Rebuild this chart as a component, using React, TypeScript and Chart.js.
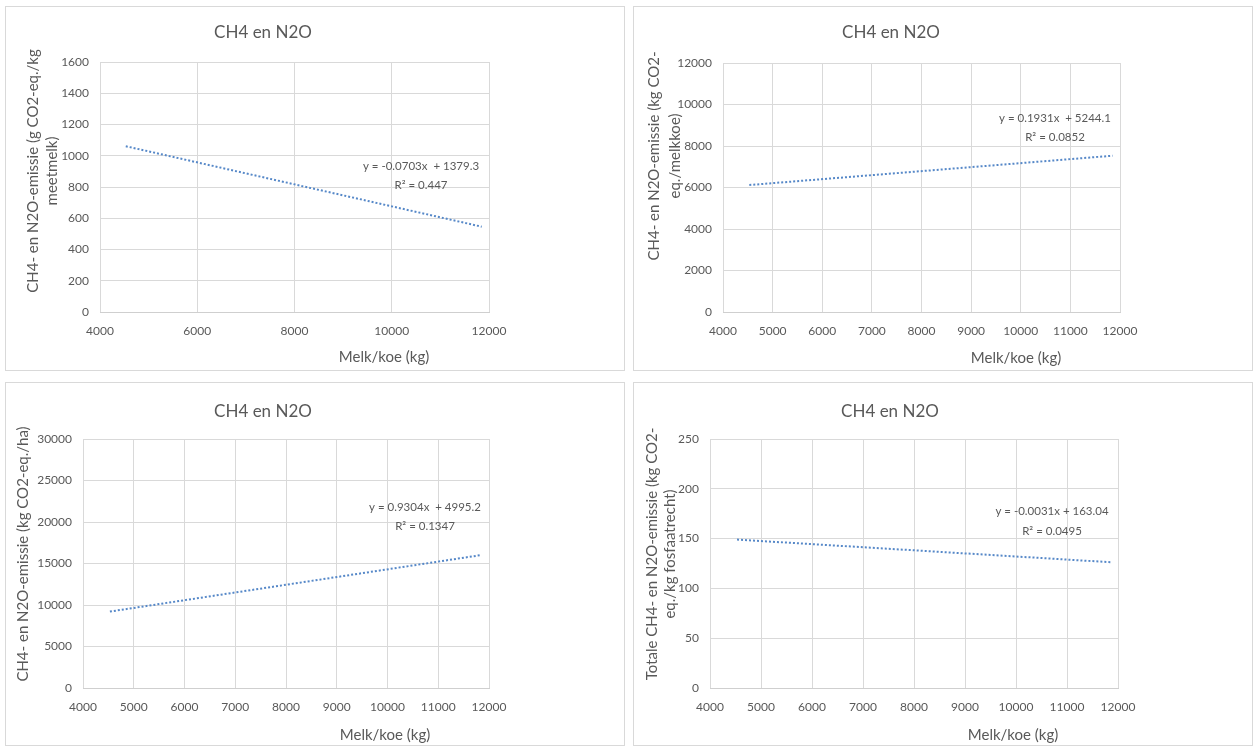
import React, { useEffect, useRef } from "react";
import { Chart, registerables } from "chart.js";

Chart.register(...registerables);

// ---- data ----
const milkRange = [4530, 11850];
const trendGPerKgMeetmelk = [1061, 546];
const trendKgPerMelkkoe = [6119, 7532];
const trendKgPerHa = [9210, 16020];
const trendKgPerKgFosfaat = [149.0, 126.3];

const chartTitle = "CH4 en N2O";
const xAxisTitle = "Melk/koe (kg)";
const yTitles1 = ["CH4- en N2O-emissie (g CO2-eq./kg", "meetmelk)"];
const yTitles2 = ["CH4- en N2O-emissie (kg CO2-", "eq./melkkoe)"];
const yTitles3 = ["CH4- en N2O-emissie (kg CO2-eq./ha)"];
const yTitles4 = ["Totale CH4- en N2O-emissie (kg CO2-", "eq./kg fosfaatrecht)"];
const eq1 = ["y = -0.0703x  + 1379.3", "R² = 0.447"];
const eq2 = ["y = 0.1931x  + 5244.1", "R² = 0.0852"];
const eq3 = ["y = 0.9304x  + 4995.2", "R² = 0.1347"];
const eq4 = ["y = -0.0031x + 163.04", "R² = 0.0495"];

const FONT = "Lato, 'Open Sans', sans-serif";
const TEXT = "#595959";
const GRID = "#d9d9d9";
const LINE = "#5688c8";

type TextItem = { t: string; x: number; y: number; size: number; rot?: boolean };

type PanelCfg = {
  left: number; top: number; w: number; h: number;
  plot: { l: number; r: number; t: number; b: number };
  yMin: number; yMax: number; yStep: number; xStep: number;
  values: number[];
  texts: TextItem[];
};

const textPlugin = {
  id: "freeTexts",
  afterDraw(chart: any, _args: any, opts: any) {
    const ctx = chart.ctx;
    ctx.save();
    ctx.fillStyle = TEXT;
    ctx.textAlign = "center";
    ctx.textBaseline = "middle";
    for (const it of (opts.items || []) as TextItem[]) {
      ctx.font = `${it.size}px ${FONT}`;
      if (it.rot) {
        ctx.save();
        ctx.translate(it.x, it.y);
        ctx.rotate(-Math.PI / 2);
        ctx.fillText(it.t, 0, 0);
        ctx.restore();
      } else {
        ctx.fillText(it.t, it.x, it.y);
      }
    }
    ctx.restore();
  },
};

function buildTexts(
  title: [number, number],
  xt: [number, number],
  yLines: string[], yXs: number[], yC: number,
  eq: string[], eqX: number, eqYs: number[]
): TextItem[] {
  const items: TextItem[] = [
    { t: chartTitle, x: title[0], y: title[1], size: 17 },
    { t: xAxisTitle, x: xt[0], y: xt[1], size: 15 },
  ];
  yLines.forEach((l, i) => items.push({ t: l, x: yXs[i], y: yC, size: 15, rot: true }));
  eq.forEach((l, i) => items.push({ t: l, x: eqX, y: eqYs[i], size: 11.5 }));
  return items;
}

const panels: PanelCfg[] = [
  {
    left: 5, top: 6, w: 620, h: 365,
    plot: { l: 94, r: 483, t: 55, b: 305 },
    yMin: 0, yMax: 1600, yStep: 200, xStep: 2000,
    values: trendGPerKgMeetmelk,
    texts: buildTexts([257, 26], [378, 350], yTitles1, [27, 46], 164, eq1, 415, [159, 178]),
  },
  {
    left: 633, top: 6, w: 620, h: 365,
    plot: { l: 89, r: 486, t: 56, b: 305 },
    yMin: 0, yMax: 12000, yStep: 2000, xStep: 1000,
    values: trendKgPerMelkkoe,
    texts: buildTexts([257, 26], [382, 351], yTitles2, [20, 41], 149, eq2, 421, [111, 130]),
  },
  {
    left: 5, top: 382, w: 620, h: 364,
    plot: { l: 77, r: 483, t: 56, b: 305 },
    yMin: 0, yMax: 30000, yStep: 5000, xStep: 1000,
    values: trendKgPerHa,
    texts: buildTexts([257, 29], [379, 352], yTitles3, [17], 171, eq3, 419, [124, 143]),
  },
  {
    left: 633, top: 382, w: 620, h: 364,
    plot: { l: 76, r: 484, t: 56, b: 305 },
    yMin: 0, yMax: 250, yStep: 50, xStep: 1000,
    values: trendKgPerKgFosfaat,
    texts: buildTexts([256, 29], [379, 352], yTitles4, [18, 36], 171, eq4, 418, [128, 148]),
  },
];

function Panel({ cfg }: { cfg: PanelCfg }) {
  const ref = useRef<HTMLCanvasElement>(null);
  const cw = cfg.w - 2;
  const ch = cfg.h - 2;
  useEffect(() => {
    if (!ref.current) return;
    const p = cfg.plot;
    const chart = new Chart(ref.current, {
      type: "scatter",
      data: {
        datasets: [
          {
            data: milkRange.map((x, i) => ({ x, y: cfg.values[i] })),
            showLine: true,
            borderColor: LINE,
            borderWidth: 2,
            borderDash: [2, 2],
            pointRadius: 0,
            fill: false,
          },
        ],
      },
      options: {
        responsive: false,
        animation: false,
        devicePixelRatio: 1,
        layout: { padding: { top: p.t, right: cw - p.r, left: 0, bottom: 0 } },
        plugins: {
          legend: { display: false },
          title: { display: false },
          tooltip: { enabled: false },
          freeTexts: { items: cfg.texts },
        } as any,
        scales: {
          x: {
            type: "linear",
            min: 4000,
            max: 12000,
            ticks: {
              stepSize: cfg.xStep,
              color: TEXT,
              font: { family: FONT, size: 12 },
              padding: 12,
              maxRotation: 0,
              callback: (v: any) => String(v),
            },
            grid: { color: GRID, drawTicks: false, lineWidth: 1 },
            border: { display: true, color: "#cfcfcf" },
            afterFit: (s: any) => { s.height = ch - p.b; },
          },
          y: {
            type: "linear",
            min: cfg.yMin,
            max: cfg.yMax,
            ticks: {
              stepSize: cfg.yStep,
              color: TEXT,
              font: { family: FONT, size: 12 },
              padding: 11,
              callback: (v: any) => String(v),
            },
            grid: { color: GRID, drawTicks: false, lineWidth: 1 },
            border: { display: false },
            afterFit: (s: any) => { s.width = p.l; },
          },
        },
      } as any,
      plugins: [textPlugin],
    });
    return () => chart.destroy();
  }, [cfg]);
  return (
    <div
      style={{
        position: "absolute",
        left: cfg.left,
        top: cfg.top,
        width: cfg.w,
        height: cfg.h,
        boxSizing: "border-box",
        border: "1px solid #d9d9d9",
        background: "#fff",
      }}
    >
      <canvas ref={ref} width={cw} height={ch} style={{ display: "block", width: cw, height: ch }} />
    </div>
  );
}

export default function App() {
  return (
    <div style={{ position: "absolute", left: 0, top: 0, width: 1254, height: 747, background: "#fff" }}>
      {panels.map((c, i) => (
        <Panel key={i} cfg={c} />
      ))}
    </div>
  );
}
